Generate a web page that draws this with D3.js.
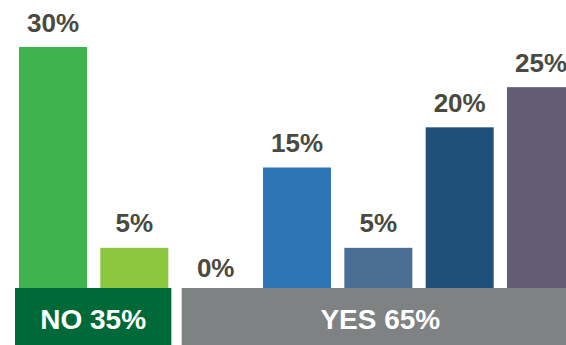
<!DOCTYPE html>
<html>
<head>
<meta charset="utf-8">
<script src="https://cdn.jsdelivr.net/npm/d3@7"></script>
<style>
  html, body { margin: 0; padding: 0; background: #ffffff; overflow: hidden; }
  svg { display: block; }
</style>
</head>
<body>
<div id="chart"></div>
<script>
// ---- data ----
const categories = ["NO-a", "NO-b", "YES-a", "YES-b", "YES-c", "YES-d", "YES-e"];
const values = [30, 5, 0, 15, 5, 20, 25];
const valueLabels = ["30%", "5%", "0%", "15%", "5%", "20%", "25%"];
const groupNames = ["NO 35%", "YES 65%"];
const groupMembers = [["NO-a", "NO-b"], ["YES-a", "YES-b", "YES-c", "YES-d", "YES-e"]];

// ---- styles ----
const barColors = ["#3fb44e", "#8dc63f", "#2e75b6", "#2e75b6", "#4a6f92", "#1f4e78", "#625c74"];
const groupColors = ["#006938", "#7f8283"];
const groupPads = [[4, 3], [0, 4]];
const textColor = "#4a4a3f";
const W = 566, H = 345;

const svg = d3.select("#chart").append("svg").attr("width", W).attr("height", H);

const x = d3.scaleBand()
  .domain(categories)
  .range([12.33, 581.67])
  .paddingInner(0.164)
  .paddingOuter(0.082);

const y = d3.scaleLinear().domain([0, 30]).range([288, 47]);

// bars
svg.selectAll("rect.bar")
  .data(values)
  .join("rect")
  .attr("class", "bar")
  .attr("x", (d, i) => x(categories[i]))
  .attr("y", d => y(d))
  .attr("width", x.bandwidth())
  .attr("height", d => y(0) - y(d))
  .attr("fill", (d, i) => barColors[i]);

// value labels
svg.selectAll("text.val")
  .data(values)
  .join("text")
  .attr("class", "val")
  .attr("x", (d, i) => x(categories[i]) + x.bandwidth() / 2)
  .attr("y", d => y(d) - (d === 0 ? 11.5 : 15.5))
  .attr("text-anchor", "middle")
  .attr("font-family", "'Liberation Sans', Arial, sans-serif")
  .attr("font-weight", "bold")
  .attr("font-size", 26)
  .attr("fill", textColor)
  .text((d, i) => valueLabels[i]);

// group bands
const groups = groupNames.map((name, gi) => {
  const mem = groupMembers[gi];
  const x0 = x(mem[0]) - groupPads[gi][0];
  const x1 = x(mem[mem.length - 1]) + x.bandwidth() + groupPads[gi][1];
  return { name, x0, x1, color: groupColors[gi] };
});

svg.selectAll("rect.group")
  .data(groups)
  .join("rect")
  .attr("class", "group")
  .attr("x", d => d.x0)
  .attr("y", y(0))
  .attr("width", d => d.x1 - d.x0)
  .attr("height", H - y(0))
  .attr("fill", d => d.color);

svg.selectAll("text.group")
  .data(groups)
  .join("text")
  .attr("class", "group")
  .attr("x", d => (d.x0 + d.x1) / 2)
  .attr("y", 329)
  .attr("text-anchor", "middle")
  .attr("font-family", "'Liberation Sans', Arial, sans-serif")
  .attr("font-weight", "bold")
  .attr("font-size", 28)
  .attr("fill", "#ffffff")
  .text(d => d.name);
</script>
</body>
</html>
